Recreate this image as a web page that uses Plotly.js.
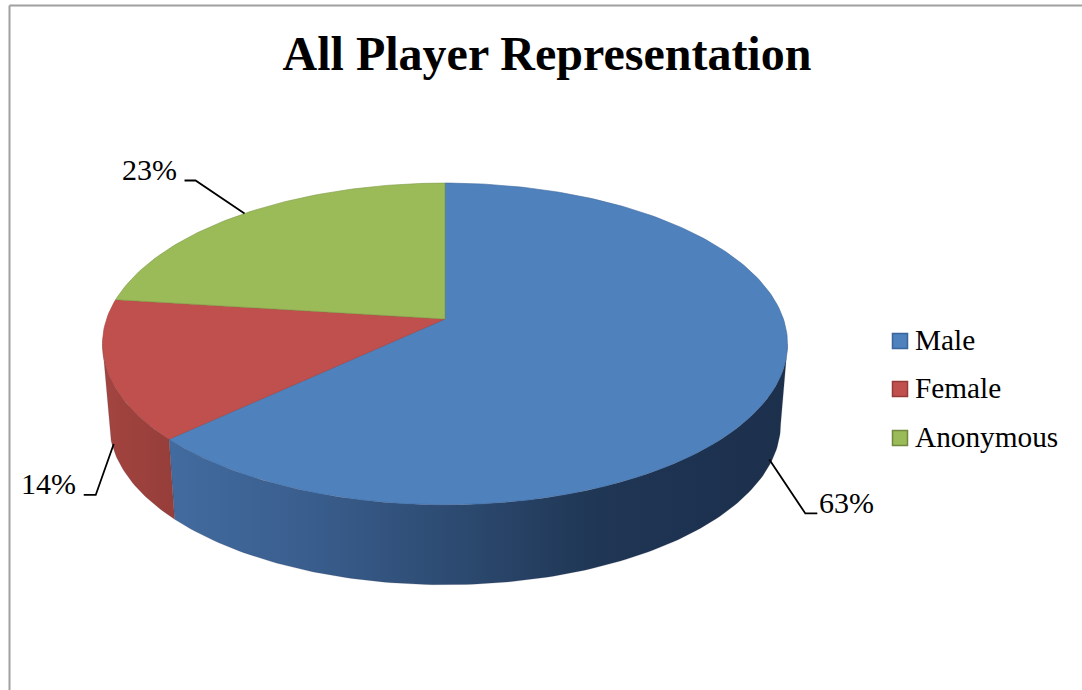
<!DOCTYPE html>
<html>
<head>
<meta charset="utf-8">
<script src="https://cdn.plot.ly/plotly-3.0.1.min.js"></script>
<style>html,body{margin:0;padding:0;background:#fff;overflow:hidden}#chart{width:1082px;height:690px}</style>
</head>
<body>
<div id="chart"></div>
<script>
// Chart content
const categories = ["Male", "Female", "Anonymous"];
const shares = [63, 14, 23];
const topColors = ["#4f81bd", "#c0504d", "#9bbb59"];
const edgeColors = ["#3f6a9e", "#a13f3c", "#7d9a45"];
const legendEdges = ["#3a659b", "#953a37", "#71893f"];

// Side wall shading, as [horizontal position, colour]
const wallShades = [
  [[173, "rgb(66,107,159)"], [300, "rgb(58,95,143)"], [450, "rgb(45,75,114)"], [600, "rgb(31,54,84)"], [700, "rgb(29,50,80)"], [790, "rgb(28,48,76)"]],
  [[100, "rgb(163,68,63)"], [180, "rgb(150,62,58)"]],
  [[100, "rgb(130,160,75)"], [180, "rgb(120,150,70)"]]
];

// Projection of the tilted disc onto the page
const disc = {cx: 445, cy: 319, a: 338.4, b: 157, k: 0.155, depth: 80, shrink: 0.98};

function rim(thetaDeg, lower) {
  const t = thetaDeg * Math.PI / 180;
  const u = Math.sin(t), v = Math.cos(t), w = 1 + disc.k * v;
  const x = disc.a * u / w, y = -disc.b * v / w;
  return lower
    ? [disc.cx + x * disc.shrink, disc.cy + y + disc.depth]
    : [disc.cx + x, disc.cy + y];
}

const total = shares.reduce((s, v) => s + v, 0);
let running = 0;
const slices = shares.map(v => {
  const from = running / total * 360;
  running += v;
  const to = running / total * 360;
  return {from, to, mid: (from + to) / 2};
});

function arc(from, to, lower) {
  const n = Math.max(1, Math.ceil(Math.abs(to - from)));
  const pts = [];
  for (let j = 0; j <= n; j++) pts.push(rim(from + (to - from) * j / n, lower));
  return pts;
}

const traces = [];

// Side wall of each slice between the two silhouette angles of the disc,
// with a left-to-right gradient
const wallFrom = Math.acos(-disc.k) * 180 / Math.PI, wallTo = 360 - wallFrom;
slices.forEach((s, i) => {
  const start = Math.max(s.from, wallFrom), end = Math.min(s.to, wallTo);
  if (end <= start) return;
  const pts = arc(start, end, false).concat(arc(end, start, true));
  pts.push(pts[0]);
  const xs = pts.map(p => p[0]), ys = pts.map(p => p[1]);
  const lo = Math.min(...xs), hi = Math.max(...xs);
  const stops = wallShades[i]
    .map(([x, c]) => [Math.min(1, Math.max(0, (x - lo) / (hi - lo))), c])
    .filter((st, j, all) => j === 0 || st[0] > all[j - 1][0]);
  stops[0][0] = 0;
  stops[stops.length - 1][0] = 1;
  traces.push({
    type: "scatter", mode: "lines", x: xs, y: ys, fill: "toself",
    fillgradient: {type: "horizontal", colorscale: stops},
    line: {color: "rgba(60,60,80,0.35)", width: 0.5}, hoverinfo: "skip", showlegend: false
  });
});

// Top face of each slice
slices.forEach((s, i) => {
  const pts = [[disc.cx, disc.cy]].concat(arc(s.from, s.to, false));
  pts.push([disc.cx, disc.cy]);
  traces.push({
    type: "scatter", mode: "lines", x: pts.map(p => p[0]), y: pts.map(p => p[1]),
    fill: "toself", fillcolor: topColors[i], line: {color: edgeColors[i], width: 0.6},
    hoverinfo: "skip", showlegend: false
  });
});

// Leader lines and percentage labels
const leaderElbows = [[36, 54, 12], [-18, 51, -12], [-49, -33, -11]];
const leaderOnWall = [true, true, false];
const leaderLift = 6;
const labelGap = [0, -6, -6];
const annotations = [];
slices.forEach((s, i) => {
  const p = rim(s.mid, leaderOnWall[i]);
  const y0 = leaderOnWall[i] ? p[1] - leaderLift : p[1];
  const [dx, dy, run] = leaderElbows[i];
  const ex = p[0] + dx, ey = y0 + dy;
  traces.push({
    type: "scatter", mode: "lines", x: [p[0], ex, ex + run], y: [y0, ey, ey],
    line: {color: "#000", width: 1.8}, hoverinfo: "skip", showlegend: false
  });
  annotations.push({
    x: ex + run + labelGap[i], y: ey - 11, xref: "x", yref: "y",
    text: shares[i] + "%", showarrow: false, xanchor: run > 0 ? "left" : "right", yanchor: "middle",
    font: {family: "Liberation Serif", size: 30, color: "#000"}
  });
});

// Legend keys and names
const legendX = 900, legendY = [341, 389, 438];
categories.forEach((name, i) => {
  traces.push({
    type: "scatter", mode: "markers", x: [legendX], y: [legendY[i]],
    marker: {symbol: "square", size: 15, color: topColors[i], line: {color: legendEdges[i], width: 1.5}},
    hoverinfo: "skip", showlegend: false
  });
  annotations.push({
    x: legendX + 12.5, y: legendY[i] - 1, xref: "x", yref: "y", text: name, showarrow: false,
    xanchor: "left", yanchor: "middle",
    font: {family: "Liberation Serif", size: 29.3, color: "#000"}
  });
});

const frame = {color: "#a0a0a0", width: 2};
const layout = {
  width: 1082, height: 690,
  margin: {l: 0, r: 0, t: 0, b: 0},
  paper_bgcolor: "#fff", plot_bgcolor: "#fff",
  title: {
    text: "<b>All Player Representation</b>",
    x: 547 / 1082, xanchor: "center", y: 1 - 53 / 690, yanchor: "middle",
    font: {family: "Liberation Serif", size: 48, color: "#000"}
  },
  xaxis: {range: [0, 1082], visible: false, fixedrange: true},
  yaxis: {range: [690, 0], visible: false, fixedrange: true},
  showlegend: false,
  annotations: annotations,
  shapes: [
    {type: "line", xref: "paper", yref: "paper", x0: 9.5 / 1082, x1: 9.5 / 1082, y0: 0, y1: 1 - 5.5 / 690, line: frame},
    {type: "line", xref: "paper", yref: "paper", x0: 9.5 / 1082, x1: 1, y0: 1 - 5.5 / 690, y1: 1 - 5.5 / 690, line: frame}
  ]
};

Plotly.newPlot("chart", traces, layout, {displayModeBar: false, staticPlot: true});
</script>
</body>
</html>
